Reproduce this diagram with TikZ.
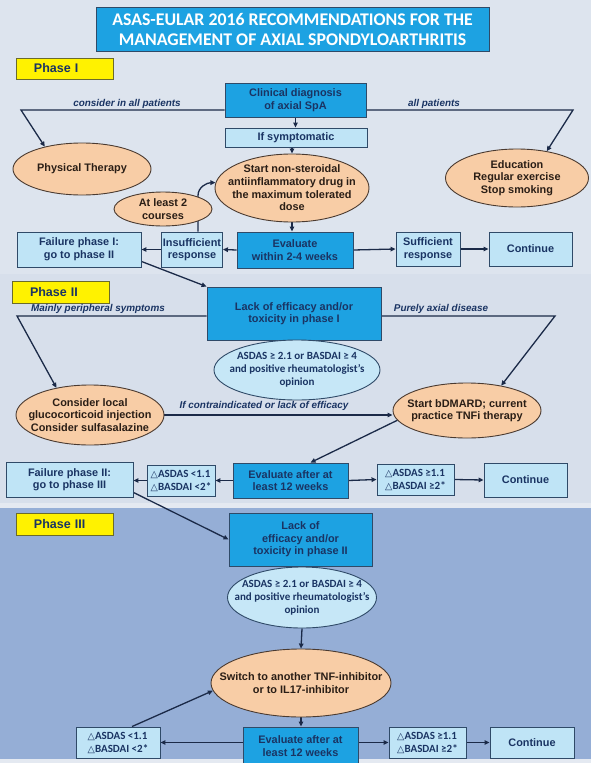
\documentclass[tikz,border=0pt]{standalone}
\usepackage{fontspec}
\setmainfont{Liberation Sans}
\newfontfamily\carl{Carlito}
\newfontfamily\djv{DejaVu Sans}
\usetikzlibrary{shapes.geometric,arrows.meta,calc}
\pgfdeclarelayer{bgfill}
\pgfdeclarelayer{lines}
\pgfsetlayers{bgfill,lines,main}
\definecolor{bgI}{HTML}{DDE4EE}
\definecolor{bgII}{HTML}{D7DFEB}
\definecolor{bgstrip}{HTML}{E4E9F1}
\definecolor{bgIII}{HTML}{95AED6}
\definecolor{boxblue}{HTML}{1DA2E2}
\definecolor{lightc}{HTML}{BFE4F6}
\definecolor{skyc}{HTML}{C6E7F7}
\definecolor{peachc}{HTML}{F8CDA6}
\definecolor{edgec}{HTML}{2F4A68}
\definecolor{edgeb}{HTML}{4A3A30}
\definecolor{arrc}{HTML}{1B2A48}
\definecolor{navy}{HTML}{1A3463}
\definecolor{browntxt}{HTML}{2A1E16}
\definecolor{olivec}{HTML}{6B6B2A}
\newcommand\mytri{{\djv\mdseries\fontsize{9.5}{9.5}\selectfont △}}
\tikzset{
  arr/.style={draw=arrc, line width=1.3pt, -{Triangle[length=5pt,width=4.5pt]}},
  ln/.style={draw=arrc, line width=1.3pt},
  txt/.style={font=\bfseries\fontsize{10.9}{12.6}\selectfont, align=center},
  bbox/.style={txt, rectangle, fill=boxblue, draw=edgec, line width=0.9pt, text=navy, inner sep=1pt},
  lbox/.style={txt, rectangle, fill=lightc, draw=edgec, line width=0.9pt, text=navy, inner sep=1pt},
  peach/.style={ellipse, fill=peachc, draw=edgeb, line width=0.9pt, inner sep=0pt},
  sky/.style={ellipse, fill=skyc, draw=edgec, line width=0.9pt, inner sep=0pt},
  ptext/.style={txt, text=browntxt, inner sep=0pt},
  stext/.style={font=\carl\bfseries\fontsize{11}{12.8}\selectfont, align=center, text=navy, inner sep=0pt},
  dtext/.style={font=\carl\bfseries\fontsize{11}{13}\selectfont, align=left, text=navy},
  phase/.style={rectangle, fill=yellow, draw=olivec, line width=0.9pt, font=\bfseries\fontsize{12.5}{13}\selectfont, text=navy, align=left, text width=61pt, inner xsep=0pt, minimum width=97pt},
  note/.style={font=\bfseries\itshape\fontsize{9.9}{11}\selectfont, text=navy, inner sep=0pt}
}
\begin{document}
\begin{tikzpicture}[x=1pt,y=-1pt]
\useasboundingbox (0,0) rectangle (591,763);
\begin{pgfonlayer}{bgfill}
  \fill[bgI] (0,0) rectangle (591,274);
  \fill[bgII] (0,274) rectangle (591,503);
  \fill[bgstrip] (0,503) rectangle (591,508);
  \fill[bgIII] (0,508) rectangle (591,759);
  \fill[bgstrip] (0,759) rectangle (591,763);
\end{pgfonlayer}

% ---------- title ----------
\node[rectangle, fill=boxblue, draw=edgec, line width=0.9pt, minimum width=393pt, minimum height=44pt,
      font=\carl\bfseries\fontsize{17.8}{20.5}\selectfont, text=white, align=center] (title) at (292.5,29.5)
      {ASAS-EULAR 2016 RECOMMENDATIONS FOR THE\\MANAGEMENT OF AXIAL SPONDYLOARTHRITIS};

% ---------- Phase I ----------
\node[phase, minimum height=21pt] (ph1) at (64.5,68.5) {Phase I};
\node[bbox, minimum width=141pt, minimum height=34pt] (clin) at (295.5,100) {Clinical diagnosis\\of axial SpA};
\node[lbox, minimum width=142pt, minimum height=19pt] (ifsym) at (296,137.5) {If symptomatic};
\node[peach, minimum width=154pt, minimum height=68pt] (nsaid) at (292,188) {};
\node[ptext] (nsaidT) at (nsaid) {Start non-steroidal\\antiinflammatory drug in\\the maximum tolerated\\dose};
\node[peach, minimum width=138pt, minimum height=52pt] (phys) at (82,169) {};
\node[ptext] (physT) at (phys) {Physical Therapy};
\node[peach, minimum width=143pt, minimum height=58pt] (edu) at (517,178) {};
\node[ptext] (eduT) at (edu) {Education\\Regular exercise\\Stop smoking};
\node[peach, minimum width=98pt, minimum height=34pt] (least) at (163,209) {};
\node[ptext] (leastT) at (least) {At least 2\\courses};
\node[bbox, minimum width=116pt, minimum height=36pt] (ev1) at (295,250) {Evaluate\\within 2-4 weeks};
\node[lbox, minimum width=61pt, minimum height=35pt, inner sep=0pt] (insuf) at (192,249.5) {Insufficient\\response};
\node[lbox, minimum width=124pt, minimum height=35pt] (fail1) at (79,249.5) {Failure phase I:\\go to phase II};
\node[lbox, minimum width=64pt, minimum height=34pt] (suf) at (428,249) {Sufficient\\response};
\node[lbox, minimum width=83pt, minimum height=34pt] (cont1) at (530.5,249) {Continue};
\node[note] (n1) at (127,104) {consider in all patients};
\node[note] (n2) at (434,104) {all patients};
\coordinate (tl1) at (21,110);
\coordinate (tr1) at (573,110);

% ---------- Phase II ----------
\node[phase, minimum height=22pt] (ph2) at (60.5,292) {Phase II};
\node[bbox, minimum width=174pt, minimum height=53pt] (lack1) at (294,313.5) {Lack of efficacy and/or\\toxicity in phase I};
\node[sky, minimum width=166pt, minimum height=60pt] (as2) at (297,370) {};
\node[stext] (as2T) at (as2) {ASDAS ≥ 2.1 or BASDAI ≥ 4\\and positive rheumatologist’s\\opinion};
\node[peach, minimum width=148pt, minimum height=60pt] (local) at (90,415) {};
\node[ptext] (localT) at (local) {Consider local\\glucocorticoid injection\\Consider sulfasalazine};
\node[peach, minimum width=148pt, minimum height=55pt] (bdm) at (467,410.5) {};
\node[ptext] (bdmT) at (bdm) {Start bDMARD; current\\practice TNFi therapy};
\node[bbox, minimum width=115pt, minimum height=35pt] (ev2) at (290.5,480.5) {Evaluate after at\\least 12 weeks};
\node[lbox, dtext, minimum width=68pt, minimum height=31pt, inner sep=2pt] (dl2) at (181,480.5) {\mytri ASDAS <1.1\\\mytri BASDAI <2*};
\node[lbox, minimum width=127pt, minimum height=35pt] (fail2) at (69.5,479.5) {Failure phase II:\\go to phase III};
\node[lbox, dtext, minimum width=77pt, minimum height=31pt, inner sep=2pt] (dg2) at (415.5,479.5) {\mytri ASDAS ≥1.1\\\mytri BASDAI ≥2*};
\node[lbox, minimum width=83pt, minimum height=34pt] (cont2) at (525.5,480) {Continue};
\node[note] (n3) at (98,309) {Mainly peripheral symptoms};
\node[note] (n4) at (441,309) {Purely axial disease};
\node[note] (n5) at (264,406) {If contraindicated or lack of efficacy};
\coordinate (tl2) at (17,316);
\coordinate (tr2) at (555,316);

% ---------- Phase III ----------
\node[phase, minimum height=22pt] (ph3) at (64.5,524) {Phase III};
\node[bbox, minimum width=143pt, minimum height=53pt] (lack2) at (300.5,539.5) {Lack of\\efficacy and/or\\toxicity in phase II};
\node[sky, minimum width=149pt, minimum height=61pt] (as3) at (302,597.5) {};
\node[stext] (as3T) at (as3) {ASDAS ≥ 2.1 or BASDAI ≥ 4\\and positive rheumatologist’s\\opinion};
\node[peach, minimum width=180pt, minimum height=68pt] (sw) at (301,683) {};
\node[ptext] (swT) at (sw) {Switch to another TNF-inhibitor\\or to IL17-inhibitor};
\node[bbox, minimum width=115pt, minimum height=38pt] (ev3) at (300.5,746) {Evaluate after at\\least 12 weeks};
\node[lbox, dtext, minimum width=84pt, minimum height=31pt, inner sep=2pt] (dl3) at (118,742.5) {\mytri ASDAS <1.1\\\mytri BASDAI <2*};
\node[lbox, dtext, minimum width=77pt, minimum height=31pt, inner sep=2pt] (dg3) at (427.5,742.5) {\mytri ASDAS ≥1.1\\\mytri BASDAI ≥2*};
\node[lbox, minimum width=84pt, minimum height=31pt] (cont3) at (532,742.5) {Continue};

% ---------- connectors ----------
\begin{pgfonlayer}{lines}
  % phase I
  \draw[arr] (clin.west |- tl1) -- (tl1) -- (phys.149);
  \draw[arr] (clin.east |- tr1) -- (tr1) -- (edu.42);
  \draw[arr] (clin.south) -- (clin.south |- ifsym.north);
  \draw[arr] (ifsym.south -| nsaid.north) -- (nsaid.north);
  \draw[arr] (nsaid.south) -- (nsaid.south |- ev1.north);
  \draw[arr] (ev1.west) -- (insuf.east);
  \draw[arr] (insuf.west) -- (fail1.east);
  \draw[arr] (ev1.east) -- (suf.west);
  \draw[arr] (suf.east) -- (cont1.west);
  \draw[arr] ([xshift=6pt]insuf.north) -- ++(0,-36) to[out=90,in=180] (nsaid.176);
  \draw[arr] ([yshift=6pt]fail1.south east) -- (lack1.north west);
  % phase II
  \draw[arr] (lack1.west |- tl2) -- (tl2) -- (local.141);
  \draw[arr] (lack1.east |- tr2) -- (tr2) -- (bdm.36);
  \draw[arr] (local.east) -- (bdm.west |- local.east);
  \draw[arr] (bdm.188) -- ([xshift=20pt]ev2.north);
  \draw[arr] (ev2.west) -- (dl2.east);
  \draw[arr] (dl2.west) -- (fail2.east |- dl2.west);
  \draw[arr] (ev2.east) -- (dg2.west);
  \draw[arr] (dg2.east) -- (cont2.west);
  \draw[arr] ([yshift=5pt]fail2.south east) -- (lack2.west);
  % phase III
  \draw[arr] (as3.south) -- (sw.north);
  \draw[arr] (sw.south) -- (sw.south |- ev3.north);
  \draw[arr] (ev3.west |- dl3.east) -- (dl3.east);
  \draw[arr] (ev3.east |- dg3.west) -- (dg3.west);
  \draw[arr] (dg3.east) -- (cont3.west);
  \draw[arr] ([xshift=14pt]dl3.north) -- (sw.185);
\end{pgfonlayer}
\end{tikzpicture}
\end{document}
